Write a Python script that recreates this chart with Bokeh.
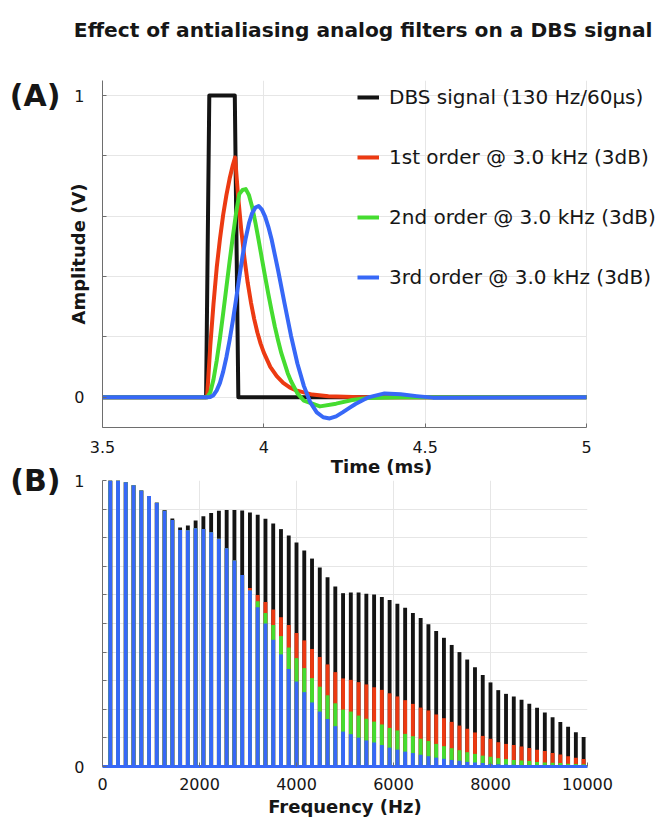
from bokeh.plotting import figure
from bokeh.models import Range1d, FixedTicker, Legend, LegendItem, LinearAxis, Grid, Title
from bokeh.layouts import column
from bokeh.embed import file_html
from bokeh.resources import INLINE

# ---------------- data: panel A (time domain) ----------------
title_text = "Effect of antialiasing analog filters on a DBS signal"
series_labels = ["DBS signal (130 Hz/60µs)", "1st order @ 3.0 kHz (3dB)",
                 "2nd order @ 3.0 kHz (3dB)", "3rd order @ 3.0 kHz (3dB)"]
panel_labels = ["(A)", "(B)"]

t_dbs = [3.5, 3.821, 3.831, 3.910, 3.921, 5.0]
v_dbs = [0, 0, 1, 1, 0, 0]

t_1st = [3.5, 3.824, 3.834, 3.844, 3.854, 3.864, 3.874, 3.884, 3.894, 3.904, 3.911,
         3.92, 3.93, 3.94, 3.95, 3.96, 3.97, 3.98, 3.99, 4.00, 4.02, 4.04, 4.06,
         4.08, 4.10, 4.15, 4.20, 4.30, 5.0]
v_1st = [0, 0, 0.17, 0.31, 0.43, 0.525, 0.605, 0.67, 0.725, 0.77, 0.795,
         0.67, 0.555, 0.46, 0.38, 0.315, 0.26, 0.215, 0.178, 0.148, 0.101, 0.07, 0.048,
         0.033, 0.023, 0.009, 0.0035, 0.0005, 0]

t_2nd = [3.5, 3.824, 3.834, 3.844, 3.854, 3.864, 3.874, 3.884, 3.894, 3.904, 3.914,
         3.924, 3.934, 3.944, 3.954, 3.964, 3.974, 3.984, 3.994, 4.004, 4.014, 4.024,
         4.034, 4.044, 4.054, 4.074, 4.084, 4.104, 4.124, 4.174, 4.224, 4.274, 4.324,
         4.424, 5.0]
v_2nd = [0, 0, 0.016, 0.059, 0.122, 0.196, 0.279, 0.365, 0.451, 0.533, 0.611,
         0.674, 0.687, 0.690, 0.670, 0.630, 0.578, 0.520, 0.460, 0.400, 0.342, 0.287,
         0.235, 0.189, 0.147, 0.080, 0.054, 0.013, -0.011, -0.030, -0.021, -0.009, -0.002,
         0.0005, 0]

t_3rd = [3.5, 3.824, 3.834, 3.844, 3.854, 3.864, 3.874, 3.884, 3.894, 3.904, 3.914,
         3.924, 3.934, 3.944, 3.954, 3.964, 3.974, 3.984, 3.994, 4.004, 4.014, 4.024,
         4.044, 4.064, 4.084, 4.104, 4.124, 4.144, 4.164, 4.184, 4.204, 4.224, 4.244,
         4.264, 4.284, 4.324, 4.374, 4.424, 4.474, 4.524, 5.0]
v_3rd = [0, 0, 0.001, 0.007, 0.023, 0.048, 0.085, 0.133, 0.190, 0.254, 0.325,
         0.398, 0.468, 0.528, 0.577, 0.611, 0.629, 0.634, 0.622, 0.599, 0.565, 0.524,
         0.422, 0.312, 0.205, 0.112, 0.038, -0.017, -0.050, -0.066, -0.070, -0.063, -0.050,
         -0.036, -0.022, 0.000, 0.013, 0.010, 0.004, -0.001, 0]

# ---------------- data: panel B (spectrum) ----------------
freq_hz = list(range(160, 9921, 160))
amp_dbs = [1.0, 1.0, 0.994, 0.983, 0.965, 0.946, 0.922, 0.897, 0.867, 0.836,
           0.843, 0.860, 0.875, 0.886, 0.894, 0.897, 0.897, 0.895, 0.888, 0.880,
           0.866, 0.850, 0.830, 0.808, 0.783, 0.755, 0.727, 0.696, 0.662, 0.629,
           0.606, 0.608, 0.608, 0.604, 0.601, 0.593, 0.582, 0.569, 0.555, 0.537,
           0.519, 0.497, 0.474, 0.450, 0.425, 0.400, 0.374, 0.347, 0.320, 0.294,
           0.267, 0.254, 0.245, 0.233, 0.219, 0.205, 0.189, 0.172, 0.156, 0.139,
           0.120, 0.103]
amp_1st = [1.0, 1.0, 0.994, 0.983, 0.965, 0.946, 0.922, 0.894, 0.862, 0.827,
           0.826, 0.833, 0.830, 0.819, 0.796, 0.763, 0.720, 0.670, 0.624, 0.600,
           0.575, 0.549, 0.522, 0.495, 0.467, 0.441, 0.411, 0.383, 0.357, 0.330,
           0.308, 0.303, 0.295, 0.287, 0.277, 0.268, 0.256, 0.245, 0.232, 0.219,
           0.206, 0.196, 0.182, 0.169, 0.156, 0.143, 0.132, 0.119, 0.107, 0.097,
           0.085, 0.079, 0.075, 0.070, 0.065, 0.059, 0.054, 0.047, 0.042, 0.036,
           0.031, 0.026]
amp_2nd = [1.0, 1.0, 0.994, 0.983, 0.965, 0.946, 0.922, 0.894, 0.862, 0.827,
           0.826, 0.833, 0.830, 0.819, 0.796, 0.763, 0.720, 0.670, 0.615, 0.578,
           0.537, 0.495, 0.456, 0.416, 0.379, 0.344, 0.309, 0.279, 0.249, 0.221,
           0.199, 0.192, 0.178, 0.167, 0.157, 0.147, 0.135, 0.126, 0.114, 0.106,
           0.097, 0.089, 0.079, 0.071, 0.064, 0.057, 0.050, 0.044, 0.038, 0.034,
           0.029, 0.026, 0.023, 0.021, 0.019, 0.016, 0.014, 0.013, 0.012, 0.010,
           0.009, 0.008]
amp_3rd = [1.0, 1.0, 0.994, 0.983, 0.965, 0.946, 0.922, 0.894, 0.862, 0.827,
           0.826, 0.833, 0.830, 0.819, 0.796, 0.763, 0.720, 0.670, 0.615, 0.557,
           0.500, 0.443, 0.392, 0.341, 0.297, 0.260, 0.224, 0.192, 0.166, 0.141,
           0.122, 0.113, 0.101, 0.091, 0.084, 0.075, 0.066, 0.059, 0.052, 0.047,
           0.041, 0.036, 0.031, 0.027, 0.023, 0.020, 0.016, 0.014, 0.012, 0.009,
           0.008, 0.007, 0.006, 0.005, 0.005, 0.003, 0.003, 0.002, 0.002, 0.002,
           0.001, 0.001]

time_ticks = [3.5, 4.0, 4.5, 5.0]
time_tick_labels = {3.5: "3.5", 4.0: "4", 4.5: "4.5", 5.0: "5"}
freq_ticks = [0, 2000, 4000, 6000, 8000, 10000]

# ---------------- style ----------------
FONT = "DejaVu Sans"
COLORS = ["#141414", "#ec3a12", "#45dc30", "#3768f7"]
AXIS_C = "#6e6e6e"
GRID_C = "#e6e6e6"
TXT_C = "#161616"
HAS_CROSS = "cross_bounds" in Grid.properties()


def style(p):
    p.outline_line_color = None
    p.background_fill_color = None
    p.border_fill_color = None
    for ax in (p.xaxis[0], p.yaxis[0]):
        ax.axis_line_color = AXIS_C
        ax.major_tick_in = 4
        ax.major_tick_out = 0
        ax.minor_tick_in = 4
        ax.minor_tick_out = 0
        ax.major_tick_line_color = AXIS_C
        ax.minor_tick_line_color = AXIS_C
        ax.major_label_text_font = FONT
        ax.major_label_text_font_size = "16px"
        ax.major_label_text_color = TXT_C
        ax.axis_label_text_font = FONT
        ax.axis_label_text_font_size = "18px"
        ax.axis_label_text_font_style = "bold"
        ax.axis_label_text_color = TXT_C
    p.xaxis[0].major_label_standoff = 13
    p.xaxis[0].axis_label_standoff = 0
    p.yaxis[0].major_label_standoff = 18
    p.yaxis[0].axis_label_standoff = -18
    p.xgrid.grid_line_color = GRID_C
    p.ygrid.grid_line_color = GRID_C
    p.ygrid.minor_grid_line_color = GRID_C


def panel_tag(p, text, standoff):
    ax = LinearAxis(ticker=FixedTicker(ticks=[1]), major_label_overrides={1: text},
                    axis_line_color=None, major_tick_line_color=None,
                    minor_tick_line_color=None, major_label_standoff=standoff,
                    major_label_text_font=FONT, major_label_text_font_size="30px",
                    major_label_text_font_style="bold", major_label_text_color=TXT_C)
    p.add_layout(ax, "left")


# ---------------- panel A ----------------
pA = figure(output_backend="svg", toolbar_location=None,
            frame_width=558, frame_height=347,
            min_border_left=102, min_border_right=0, min_border_top=80, min_border_bottom=56,
            x_range=Range1d(3.5, 3.5 + 558 / 322.667), y_range=Range1d(-0.1, 1.05))
style(pA)
pA.xaxis[0].ticker = FixedTicker(ticks=time_ticks)
pA.xaxis[0].bounds = (3.5, 5.0)
pA.xaxis[0].major_label_overrides = time_tick_labels
pA.yaxis[0].ticker = FixedTicker(ticks=[0, 1], minor_ticks=[0.2, 0.4, 0.6, 0.8])
pA.xaxis[0].axis_label = "Time (ms)"
pA.yaxis[0].axis_label = "Amplitude (V)"
if HAS_CROSS:
    pA.ygrid.cross_bounds = (3.5, 5.0)

# spacer (nearest the frame) then the real title above it
pA.add_layout(Title(text=" ", text_font_size="10px", standoff=25), "above")
pA.add_layout(Title(text=title_text, text_font=FONT, text_font_size="20.2px",
                    text_font_style="bold", text_color=TXT_C, align="right", offset=8,
                    vertical_align="middle", standoff=0), "above")

panel_tag(pA, panel_labels[0], -1)

rA = []
for tt, vv, c in [(t_dbs, v_dbs, COLORS[0]), (t_1st, v_1st, COLORS[1]),
                  (t_2nd, v_2nd, COLORS[2]), (t_3rd, v_3rd, COLORS[3])]:
    rA.append(pA.line(tt, vv, line_color=c, line_width=4, line_join="round"))

legend = Legend(items=[LegendItem(label=lab, renderers=[r]) for lab, r in zip(series_labels, rA)],
                location=(255, 138), padding=0, margin=0, spacing=36,
                label_height=24, glyph_height=24, glyph_width=22, label_standoff=10,
                label_text_font=FONT, label_text_font_size="20px", label_text_color=TXT_C,
                border_line_color=None, background_fill_alpha=0)
pA.add_layout(legend, "center")

# ---------------- panel B ----------------
pB = figure(output_backend="svg", toolbar_location=None,
            frame_width=485, frame_height=286,
            min_border_left=102, min_border_right=60, min_border_top=20, min_border_bottom=40,
            x_range=Range1d(0, 10000), y_range=Range1d(0, 1))
style(pB)
pB.margin = (-23, 0, 0, 0)
pB.xaxis[0].major_label_standoff = 11
pB.xaxis[0].axis_label_standoff = 3
pB.xaxis[0].ticker = FixedTicker(ticks=freq_ticks)
pB.yaxis[0].ticker = FixedTicker(ticks=[0, 1], minor_ticks=[0.1, 0.2, 0.3, 0.4, 0.5, 0.6, 0.7, 0.8, 0.9])
pB.xaxis[0].axis_label = "Frequency (Hz)"
pB.xaxis[0].axis_line_color = COLORS[3]
pB.xaxis[0].axis_line_width = 3
panel_tag(pB, panel_labels[1], 5)

for amps, c in [(amp_dbs, COLORS[0]), (amp_1st, COLORS[1]), (amp_2nd, COLORS[2]), (amp_3rd, COLORS[3])]:
    pB.vbar(x=freq_hz, top=amps, bottom=0, width=80, fill_color=c, line_color=None)

layout = column(pA, pB, spacing=0)
open("out.html", "w").write(file_html(layout, INLINE))
